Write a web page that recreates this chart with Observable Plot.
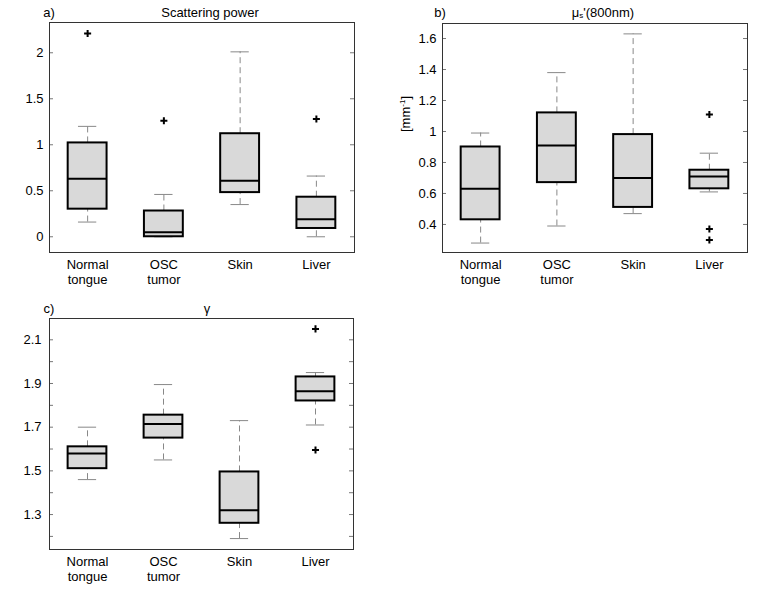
<!DOCTYPE html>
<html>
<head>
<meta charset="utf-8">
<script src="https://cdn.jsdelivr.net/npm/d3@7"></script>
<script src="https://cdn.jsdelivr.net/npm/@observablehq/plot@0.6"></script>
<style>
  html, body { margin: 0; padding: 0; background: #ffffff; }
  #page { position: relative; width: 774px; height: 589px; background: #ffffff; overflow: hidden; }
  .panel { position: absolute; }
  svg text { font-family: "Liberation Sans", Arial, Helvetica, sans-serif; }
</style>
</head>
<body>
<div id="page">
  <div class="panel" id="pa" style="left:0px;top:0px"></div>
  <div class="panel" id="pb" style="left:387px;top:0px"></div>
  <div class="panel" id="pc" style="left:0px;top:295px"></div>
</div>
<script>
// ---------- data ----------
const categories = ["Normal\ntongue", "OSC\ntumor", "Skin", "Liver"];

// a) Scattering power
const spLower  = [0.16, 0.00, 0.35, 0.00];
const spQ1     = [0.30, 0.00, 0.48, 0.09];
const spMedian = [0.63, 0.05, 0.61, 0.19];
const spQ3     = [1.02, 0.28, 1.12, 0.43];
const spUpper  = [1.20, 0.46, 2.01, 0.66];
const spOutlierCat = ["Normal\ntongue", "OSC\ntumor", "Liver"];
const spOutlierVal = [2.21, 1.26, 1.28];
const spTicks  = [0, 0.5, 1, 1.5, 2];
const spLabels = [0, 0.5, 1, 1.5, 2];

// b) mu_s'(800nm)
const musLower  = [0.28, 0.39, 0.47, 0.61];
const musQ1     = [0.43, 0.67, 0.51, 0.63];
const musMedian = [0.63, 0.91, 0.70, 0.71];
const musQ3     = [0.90, 1.12, 0.98, 0.75];
const musUpper  = [0.99, 1.38, 1.63, 0.86];
const musOutlierCat = ["Liver", "Liver", "Liver"];
const musOutlierVal = [1.11, 0.37, 0.30];
const musTicks  = [0.4, 0.6, 0.8, 1, 1.2, 1.4, 1.6];
const musLabels = [0.4, 0.6, 0.8, 1, 1.2, 1.4, 1.6];

// c) gamma
const gLower  = [1.46, 1.55, 1.19, 1.71];
const gQ1     = [1.51, 1.65, 1.26, 1.82];
const gMedian = [1.58, 1.715, 1.32, 1.865];
const gQ3     = [1.61, 1.755, 1.495, 1.93];
const gUpper  = [1.70, 1.895, 1.73, 1.95];
const gOutlierCat = ["Liver", "Liver"];
const gOutlierVal = [2.15, 1.595];
const gTicks  = [1.2, 1.3, 1.4, 1.5, 1.6, 1.7, 1.8, 1.9, 2.0, 2.1];
const gLabels = [1.3, 1.5, 1.7, 1.9, 2.1];

// ---------- drawing ----------
const FONT = '"Liberation Sans", Arial, Helvetica, sans-serif';

function makePanel(cfg) {
  const rows = categories.map((c, i) => ({
    cat: c, lo: cfg.lower[i], q1: cfg.q1[i], med: cfg.median[i], q3: cfg.q3[i], hi: cfg.upper[i]
  }));
  const outs = cfg.outCat.map((c, i) => ({cat: c, val: cfg.outVal[i]}));
  const fw = cfg.width - cfg.ml - cfg.mr;
  const band = fw / categories.length;
  const boxInset = band * 0.245;
  const capInset = band * 0.38;
  const svg = Plot.plot({
    width: cfg.width,
    height: cfg.height,
    marginTop: cfg.mt, marginRight: cfg.mr, marginBottom: cfg.mb, marginLeft: cfg.ml,
    style: {fontSize: "13px", fontFamily: FONT, background: "white", color: "black", overflow: "visible"},
    x: {type: "band", domain: categories, padding: 0, round: false},
    y: {domain: cfg.domain, label: null},
    marks: [
      Plot.tickY(cfg.ticks, {y: d => d, insetRight: fw - 4, stroke: "#777", strokeWidth: 1}),
      Plot.tickY(cfg.ticks, {y: d => d, insetLeft: fw - 4, stroke: "#777", strokeWidth: 1}),
      Plot.axisY(cfg.labels, {tickSize: 0, tickPadding: cfg.tp, label: null, fill: "black", fontSize: 13,
                              tickFormat: d => String(d)}),
      Plot.axisX({tickSize: 0, tickPadding: 6, label: null, lineHeight: 1.15, fill: "black", fontSize: 13}),
      Plot.ruleX(rows, {x: "cat", y1: "q3", y2: "hi", stroke: "#888", strokeWidth: 1, strokeDasharray: "6,4"}),
      Plot.ruleX(rows, {x: "cat", y1: "lo", y2: "q1", stroke: "#888", strokeWidth: 1, strokeDasharray: "6,4"}),
      Plot.tickY(rows, {x: "cat", y: "hi", insetLeft: capInset, insetRight: capInset, stroke: "#888", strokeWidth: 1}),
      Plot.tickY(rows, {x: "cat", y: "lo", insetLeft: capInset, insetRight: capInset, stroke: "#888", strokeWidth: 1}),
      Plot.barY(rows, {x: "cat", y1: "q1", y2: "q3", insetLeft: boxInset, insetRight: boxInset,
                       fill: "#d9d9d9", stroke: "black", strokeWidth: 2}),
      Plot.tickY(rows, {x: "cat", y: "med", insetLeft: boxInset, insetRight: boxInset, stroke: "black", strokeWidth: 2}),
      Plot.dot(outs, {x: "cat", y: "val", symbol: "plus", r: 2.4, stroke: "black", strokeWidth: 2}),
      Plot.frame({stroke: "#333", strokeWidth: 1})
    ]
  });
  const s = d3.select(svg);
  s.append("text").attr("x", cfg.letterX).attr("y", cfg.titleY)
    .attr("font-size", 13).attr("font-family", FONT).attr("fill", "black").text(cfg.letter);
  const t = s.append("text").attr("x", cfg.titleX).attr("y", cfg.titleY)
    .attr("text-anchor", "middle").attr("font-size", 13).attr("font-family", FONT).attr("fill", "black");
  cfg.title(t);
  if (cfg.ylabel) cfg.ylabel(s);
  document.getElementById(cfg.id).appendChild(svg);
}

makePanel({
  id: "pa", width: 387, height: 295, mt: 22, mr: 33, mb: 43, ml: 49, tp: 6,
  domain: [-0.171, 2.329],
  lower: spLower, q1: spQ1, median: spMedian, q3: spQ3, upper: spUpper,
  outCat: spOutlierCat, outVal: spOutlierVal, ticks: spTicks, labels: spLabels,
  letter: "a)", letterX: 49, titleX: 210, titleY: 17,
  title: t => t.text("Scattering power")
});

makePanel({
  id: "pb", width: 387, height: 295, mt: 23, mr: 27, mb: 43, ml: 55, tp: 6,
  domain: [0.219, 1.697],
  lower: musLower, q1: musQ1, median: musMedian, q3: musQ3, upper: musUpper,
  outCat: musOutlierCat, outVal: musOutlierVal, ticks: musTicks, labels: musLabels,
  letter: "b)", letterX: 53, titleX: 216, titleY: 17,
  title: t => {
    t.append("tspan").text("\u03BC");
    t.append("tspan").attr("font-size", 8).attr("dy", 1).text("s");
    t.append("tspan").attr("dy", -1).text("'(800nm)");
  },
  ylabel: s => {
    const yl = s.append("text").attr("transform", "translate(23,114) rotate(-90)")
      .attr("text-anchor", "middle").attr("font-size", 13).attr("font-family", FONT).attr("fill", "black");
    yl.append("tspan").text("[mm");
    yl.append("tspan").attr("font-size", 8).attr("dy", -5).text("-1");
    yl.append("tspan").attr("dy", 5).text("]");
  }
});

makePanel({
  id: "pc", width: 387, height: 294, mt: 23, mr: 34, mb: 40, ml: 49, tp: 8,
  domain: [1.14, 2.1975],
  lower: gLower, q1: gQ1, median: gMedian, q3: gQ3, upper: gUpper,
  outCat: gOutlierCat, outVal: gOutlierVal, ticks: gTicks, labels: gLabels,
  letter: "c)", letterX: 49, titleX: 207, titleY: 18,
  title: t => t.text("\u03B3")
});
</script>
</body>
</html>
